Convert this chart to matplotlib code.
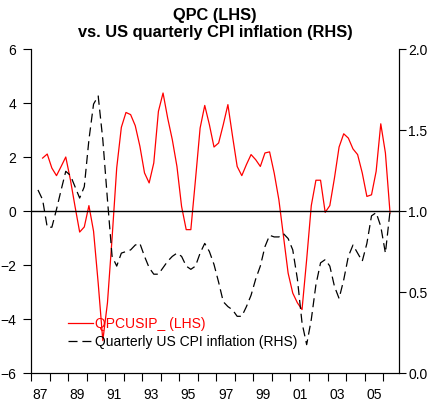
import numpy as np
import pandas as pd
import matplotlib
matplotlib.use('Agg')
import matplotlib.pyplot as plt

plt.rcParams['font.family'] = ['Liberation Sans', 'DejaVu Sans']
plt.rcParams['font.size'] = 10
plt.rcParams['lines.scale_dashes'] = False

# quarterly data
qpc_start, qpc_end = '1987Q3', '2006Q2'
qpc = [1.96, 2.11, 1.59, 1.31, 1.65, 2.0, 1.16, 0.17, -0.78, -0.59,
       0.2, -0.75, -2.67, -4.8, -3.4, -1.0, 1.6, 3.1, 3.65, 3.57,
       3.16, 2.4, 1.41, 1.04, 1.78, 3.69, 4.37, 3.44, 2.64, 1.65,
       0.17, -0.69, -0.69, 1.16, 3.07, 3.91, 3.2, 2.37, 2.52, 3.2,
       3.94, 2.77, 1.65, 1.31, 1.72, 2.09, 1.9, 1.65, 2.15, 2.19,
       1.4, 0.42, -0.94, -2.3, -3.04, -3.4, -3.65, -1.8, 0.2, 1.14,
       1.14, -0.05, 0.2, 1.22, 2.37, 2.86, 2.7, 2.3, 2.09, 1.41,
       0.54, 0.6, 1.47, 3.23, 2.15, -0.07]

cpi_start, cpi_end = '1987Q2', '2006Q2'
cpi = [1.13, 1.07, 0.90, 0.90, 1.01, 1.13, 1.245, 1.22, 1.15, 1.08,
       1.15, 1.44, 1.66, 1.71, 1.44, 1.07, 0.72, 0.66, 0.74, 0.75,
       0.76, 0.79, 0.80, 0.72, 0.65, 0.61, 0.61, 0.65, 0.69, 0.72,
       0.74, 0.72, 0.66, 0.64, 0.66, 0.74, 0.80, 0.75, 0.67, 0.56,
       0.44, 0.41, 0.39, 0.35, 0.35, 0.41, 0.48, 0.58, 0.66, 0.78,
       0.85, 0.84, 0.84, 0.86, 0.83, 0.76, 0.58, 0.31, 0.175, 0.33,
       0.545, 0.68, 0.70, 0.66, 0.535, 0.46, 0.575, 0.72, 0.79, 0.74,
       0.69, 0.80, 0.97, 0.99, 0.905, 0.74, 1.0]

year_labels = ['87', '89', '91', '93', '95', '97', '99', '01', '03', '05']


def qtime(start, end):
    p = pd.period_range(start, end, freq='Q')
    return p.year + (p.quarter - 1) / 4 + 0.125


t_qpc = qtime(qpc_start, qpc_end)
t_cpi = qtime(cpi_start, cpi_end)

fig = plt.figure(figsize=(4.29, 4.04), dpi=100)
ax = fig.add_axes([0.0723, 0.0767, 0.8587, 0.802])
ax2 = ax.twinx()

l1, = ax.plot(t_qpc, qpc, color='#ff0000', lw=0.9, label='QPCUSIP_ (LHS)')
l2, = ax2.plot(t_cpi, cpi, color='black', lw=0.9, dashes=(6.5, 3.5),
               label='Quarterly US CPI inflation (RHS)')
ax.axhline(0, color='black', lw=1)

ax.set_xlim(1987, 2006.88)
ax.set_ylim(-6, 6)
ax2.set_ylim(0, 2)
ax.set_yticks([-6, -4, -2, 0, 2, 4, 6])
ax2.set_yticks([0, 0.5, 1.0, 1.5, 2.0])
ax2.set_yticklabels(['0.0', '0.5', '1.0', '1.5', '2.0'])

ax.set_xticks(np.arange(1987, 2007))
ax.set_xticklabels([])
ax.set_xticks([int('19' + s) + 0.5 if s > '50' else int('20' + s) + 0.5
               for s in year_labels], minor=True)
ax.set_xticklabels(year_labels, minor=True)
ax.tick_params(axis='x', which='major', length=6, width=0.8, direction='out')
ax.tick_params(axis='x', which='minor', length=0, pad=11)
ax.tick_params(axis='y', length=6, width=0.8, pad=4.5)
ax2.tick_params(axis='y', length=5, width=0.8, pad=1.5)

for a in (ax, ax2):
    a.spines['top'].set_visible(False)
    for s in a.spines.values():
        s.set_linewidth(0.8)

fig.text(0.5015, 0.961, 'QPC (LHS)', ha='center', va='center',
         fontsize=11.8, fontweight='bold')
fig.text(0.5015, 0.919, 'vs. US quarterly CPI inflation (RHS)', ha='center',
         va='center', fontsize=11.8, fontweight='bold')

leg = ax.legend([l1, l2], [l1.get_label(), l2.get_label()], loc='upper left',
                bbox_to_anchor=(0.158, 0.215), bbox_transform=fig.transFigure,
                frameon=False, handlelength=1.8, handletextpad=0.15,
                borderpad=0, borderaxespad=0, labelspacing=0.25)
leg.get_texts()[0].set_color('#ff0000')

fig.savefig('out.png', dpi=100)
